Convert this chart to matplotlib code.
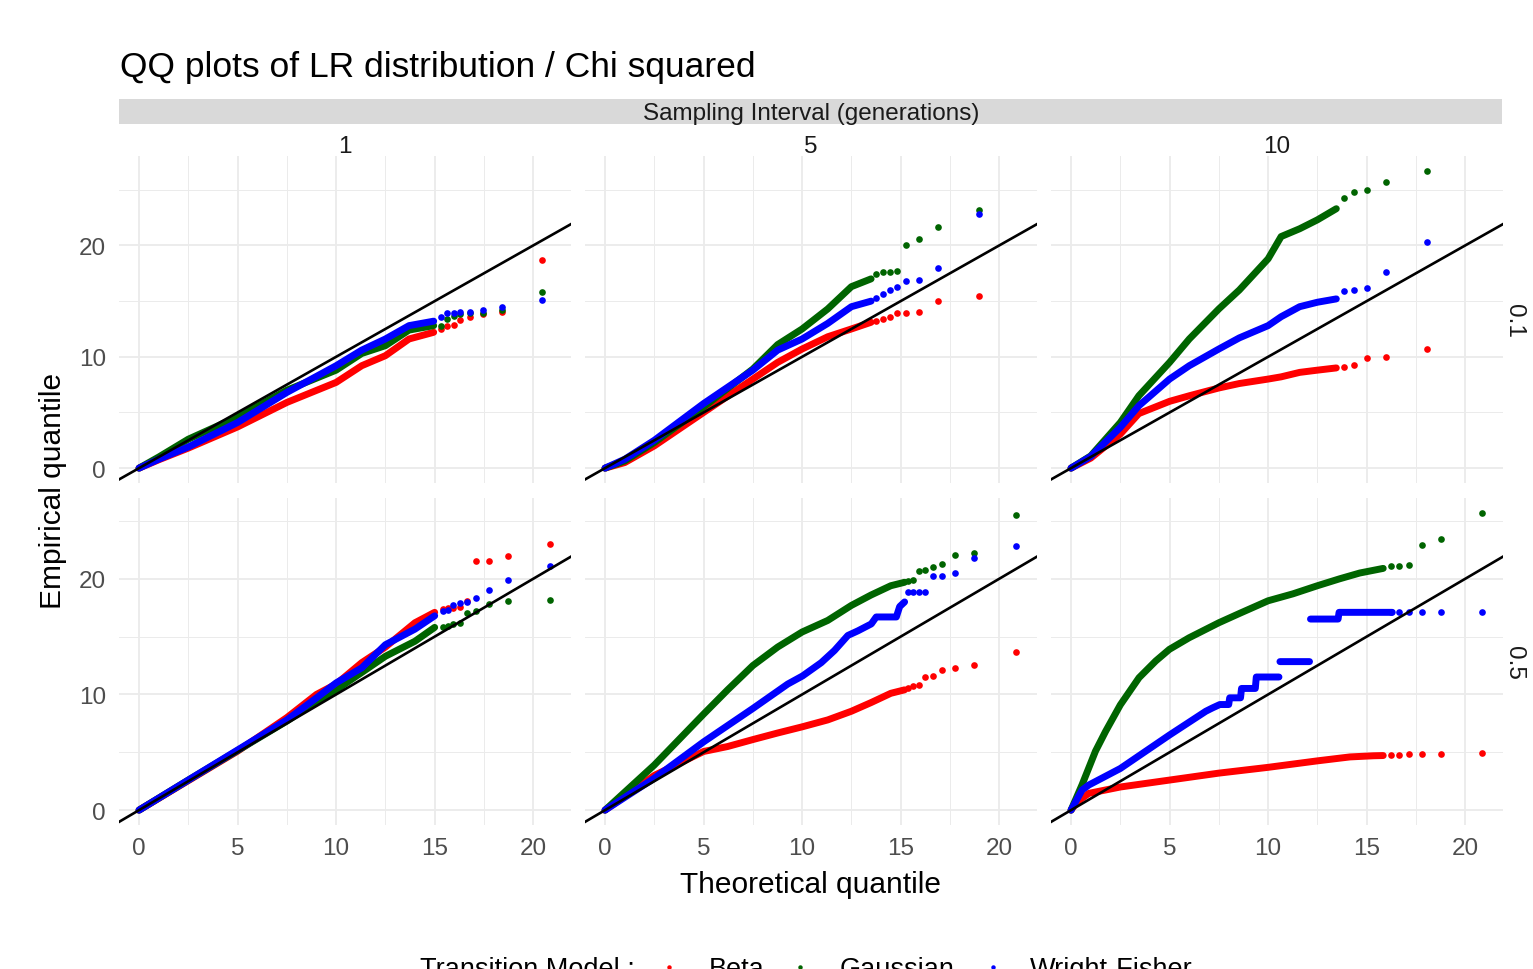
import numpy as np
import matplotlib.pyplot as plt
from matplotlib.lines import Line2D
from matplotlib.patches import Rectangle

plt.rcParams['font.family'] = ['Liberation Sans', 'DejaVu Sans']

W, H = 1533, 970
nan = float('nan')

models = ['Beta', 'Gaussian', 'Wright-Fisher']
model_colors = ['#FF0000', '#006400', '#0000FF']
intervals = ['1', '5', '10']
rates = ['0.1', '0.5']

# ---- rate 0.1, interval 1 ----
qx_01_1 = [0, 1, 2.5, 5, 7.5, 10, 11.3, 12.5, 13.7, 14.95]
beta_01_1 = [0, 0.75, 1.8, 3.7, 5.9, 7.7, 9.2, 10.1, 11.6, 12.2]
gauss_01_1 = [0, 1.0, 2.6, 4.6, 7.0, 8.8, 10.3, 11.0, 12.4, 12.8]
wf_01_1 = [0, 0.8, 1.9, 4.1, 6.8, 9.2, 10.6, 11.6, 12.8, 13.2]
tx_01_1 = [15.34, 15.63, 15.96, 16.30, 16.77, 17.45, 18.41, 20.47]
tbeta_01_1 = [12.5, 12.8, 12.9, 13.3, 13.6, 13.8, 14.0, 18.7]
tgauss_01_1 = [12.8, 13.4, 13.7, 13.8, 13.9, 13.9, 14.2, 15.8]
twf_01_1 = [13.6, 13.9, 13.9, 14.0, 14.0, 14.2, 14.5, 15.1]

# ---- rate 0.1, interval 5 ----
qx_01_5 = [0, 1, 2.5, 5, 7.5, 8.76, 10, 11.3, 12.5, 13.5]
beta_01_5 = [0, 0.5, 2.0, 5.0, 8.0, 9.5, 10.7, 11.8, 12.5, 13.1]
gauss_01_5 = [0, 0.65, 2.3, 5.5, 8.9, 11.1, 12.5, 14.3, 16.3, 17.0]
wf_01_5 = [0, 0.8, 2.5, 5.8, 8.8, 10.6, 11.6, 13.0, 14.5, 15.0]
tx_01_5 = [13.76, 14.10, 14.44, 14.81, 15.29, 15.92, 16.90, 18.97]
tbeta_01_5 = [13.2, 13.4, 13.6, 13.9, 13.9, 14.0, 15.0, 15.5]
tgauss_01_5 = [17.4, 17.6, 17.6, 17.75, 20.0, 20.6, 21.7, 23.2]
twf_01_5 = [15.3, 15.6, 16.0, 16.3, 16.8, 16.9, 18.0, 22.8]

# ---- rate 0.1, interval 10 ----
qx_01_10 = [0, 1, 2.5, 3.44, 5, 6, 7.5, 8.54, 10, 10.66, 11.6, 12.5, 13.46]
beta_01_10 = [0, 0.9, 3.06, 4.9, 6.0, 6.5, 7.2, 7.6, 8.0, 8.2, 8.6, 8.8, 9.0]
gauss_01_10 = [0, 1.1, 4.1, 6.5, 9.5, 11.6, 14.3, 16.0, 18.8, 20.8, 21.5, 22.3, 23.3]
wf_01_10 = [0, 1.05, 3.66, 5.6, 8.0, 9.2, 10.7, 11.7, 12.8, 13.6, 14.5, 14.9, 15.2]
tx_01_10 = [13.84, 14.35, 15.0, 15.96, 18.05]
tbeta_01_10 = [9.07, 9.3, 9.9, 10.0, 10.7]
tgauss_01_10 = [24.3, 24.8, 25.0, 25.7, 26.7]
twf_01_10 = [15.9, 16.0, 16.2, 17.6, 20.3]

# ---- rate 0.5, interval 1 ----
qx_05_1 = [0, 2.5, 5, 7.5, 9, 10, 11.3, 12.5, 14, 15]
beta_05_1 = [0, 2.55, 5.1, 8.0, 10.0, 10.9, 12.75, 14.1, 16.2, 17.1]
gauss_05_1 = [0, 2.6, 5.15, 7.7, 9.4, 10.4, 11.9, 13.3, 14.6, 15.8]
wf_05_1 = [0, 2.6, 5.2, 7.8, 9.7, 11.0, 12.3, 14.3, 15.65, 16.8]
tx_05_1 = [15.42, 15.68, 15.93, 16.27, 16.64, 17.12, 17.75, 18.73, 20.85]
tbeta_05_1 = [17.4, 17.5, 17.5, 17.6, 18.1, 21.5, 21.5, 22.0, 23.0]
tgauss_05_1 = [15.8, 15.9, 16.1, 16.2, 17.0, 17.2, 17.8, 18.1, 18.2]
twf_05_1 = [17.2, 17.3, 17.7, 17.9, 18.0, 18.3, 19.0, 19.9, 21.1]

# ---- rate 0.5, interval 5 ----
qx_05_5 = [0, 2.5, 5, 6.22, 7.5, 8.76, 10, 11.3, 12.5, 13.5, 14.5, 15.2]
beta_05_5 = [0, 3.0, 5.07, 5.5, 6.1, 6.67, 7.2, 7.8, 8.55, 9.3, 10.1, 10.4]
gauss_05_5 = [0, 3.9, 8.3, 10.4, 12.5, 14.1, 15.4, 16.4, 17.7, 18.6, 19.4, 19.7]
qx_wf_05_5 = [0, 2.49, 5.0, 7.51, 9.27, 10.02, 10.97, 11.64, 12.32, 12.83, 13.17,
              13.51, 13.76, 14.78, 14.95, 15.2]
wf_05_5 = [0, 2.75, 5.9, 8.8, 10.9, 11.6, 12.75, 13.8, 15.1, 15.5, 15.8,
           16.1, 16.7, 16.7, 17.6, 18.0]
tx_05_5 = [15.37, 15.63, 15.92, 16.25, 16.64, 17.12, 17.75, 18.73, 20.83]
tbeta_05_5 = [10.6, 10.7, 10.8, 11.5, 11.6, 12.1, 12.3, 12.55, 13.7]
tgauss_05_5 = [19.85, 19.9, 20.7, 20.8, 21.0, 21.3, 22.1, 22.2, 25.5]
twf_05_5 = [18.9, 18.9, 18.9, 18.9, 20.2, 20.2, 20.5, 21.8, 22.8]

# ---- rate 0.5, interval 10 ----
qx_beta_05_10 = [0, 0.3, 0.9, 2.5, 5, 7.5, 10, 12.5, 14.15, 15.34, 15.84]
beta_05_10 = [0, 0.7, 1.45, 2.0, 2.6, 3.2, 3.7, 4.26, 4.6, 4.7, 4.72]
qx_gauss_05_10 = [0, 0.56, 1.24, 1.75, 2.5, 3.45, 4.30, 4.99, 5.99, 7.50, 8.54,
                  10.0, 11.26, 12.5, 13.63, 14.65, 15.84]
gauss_05_10 = [0, 2.2, 5.1, 6.8, 9.1, 11.45, 12.9, 13.9, 14.9, 16.2, 17.0,
               18.1, 18.7, 19.4, 20.0, 20.5, 20.9]
# nan marks a jump between steps of tied values
qx_wf_05_10 = [0, 0.56, 0.9, 2.5, 5.0, 6.84, 7.18, 7.55, 8.0, 8.05, 8.6, 8.65, 9.35,
               9.4, 10.55, nan, 10.6, 12.1, nan, 12.15, 13.55, 13.6, 16.3]
wf_05_10 = [0, 1.74, 2.17, 3.6, 6.5, 8.55, 8.84, 9.13, 9.13, 9.71, 9.71, 10.52, 10.52,
            11.51, 11.51, nan, 12.84, 12.84, nan, 16.52, 16.52, 17.10, 17.10]
tx_05_10 = [16.26, 16.66, 17.13, 17.79, 18.78, 20.85]
tbeta_05_10 = [4.75, 4.78, 4.84, 4.84, 4.84, 4.93]
tgauss_05_10 = [21.1, 21.1, 21.2, 22.95, 23.4, 25.7]
twf_05_10 = [17.1, 17.1, 17.1, 17.1, 17.1, 17.1]

# (row, col) -> dense (x, y) per model, tail x, tail y per model
panels = {
    (0, 0): ([(qx_01_1, beta_01_1), (qx_01_1, gauss_01_1), (qx_01_1, wf_01_1)],
             tx_01_1, [tbeta_01_1, tgauss_01_1, twf_01_1]),
    (0, 1): ([(qx_01_5, beta_01_5), (qx_01_5, gauss_01_5), (qx_01_5, wf_01_5)],
             tx_01_5, [tbeta_01_5, tgauss_01_5, twf_01_5]),
    (0, 2): ([(qx_01_10, beta_01_10), (qx_01_10, gauss_01_10), (qx_01_10, wf_01_10)],
             tx_01_10, [tbeta_01_10, tgauss_01_10, twf_01_10]),
    (1, 0): ([(qx_05_1, beta_05_1), (qx_05_1, gauss_05_1), (qx_05_1, wf_05_1)],
             tx_05_1, [tbeta_05_1, tgauss_05_1, twf_05_1]),
    (1, 1): ([(qx_05_5, beta_05_5), (qx_05_5, gauss_05_5), (qx_wf_05_5, wf_05_5)],
             tx_05_5, [tbeta_05_5, tgauss_05_5, twf_05_5]),
    (1, 2): ([(qx_beta_05_10, beta_05_10), (qx_gauss_05_10, gauss_05_10),
              (qx_wf_05_10, wf_05_10)],
             tx_05_10, [tbeta_05_10, tgauss_05_10, twf_05_10]),
}

# shared x range, y range per row (ggplot 5% expansion)
xmax = max(max(p[1]) for p in panels.values())
xlim = (-0.05 * xmax, 1.05 * xmax)
row_max = []
for r in range(2):
    vals = []
    for c in range(3):
        dense, tx, tys = panels[(r, c)]
        for _, y in dense:
            vals.append(np.nanmax(y))
        for ty in tys:
            vals.append(max(ty))
    row_max.append(max(vals))

fig = plt.figure(figsize=(W / 100, H / 100), dpi=100)


def px_axes(left, top, width, height):
    return fig.add_axes([left / W, 1 - (top + height) / H, width / W, height / H])


col_left = [118.5, 584.5, 1050.5]
row_top = [157, 499]
pw, ph = 452, 327
grid_col = '#EBEBEB'
small = 17.5

for (r, c), (dense, tx, tys) in panels.items():
    ax = px_axes(col_left[c], row_top[r], pw, ph)
    ax.set_xlim(xlim)
    ax.set_ylim(-0.05 * row_max[r], 1.05 * row_max[r])
    ax.set_xticks([0, 5, 10, 15, 20])
    ax.set_xticks([2.5, 7.5, 12.5, 17.5], minor=True)
    ax.set_yticks([0, 10, 20])
    ax.set_yticks([5, 15, 25], minor=True)
    ax.grid(which='major', color=grid_col, lw=1.3)
    ax.grid(which='minor', color=grid_col, lw=0.7)
    ax.set_axisbelow(True)
    for s in ax.spines.values():
        s.set_visible(False)
    ax.tick_params(which='both', length=0, labelsize=small, labelcolor='#4D4D4D')
    ax.tick_params(axis='x', pad=9)
    ax.tick_params(axis='y', pad=9)
    if r == 0:
        ax.tick_params(axis='x', labelbottom=False)
    if c > 0:
        ax.tick_params(axis='y', labelleft=False)

    for (x, y), ty, col in zip(dense, tys, model_colors):
        ax.plot(x, y, color=col, lw=5, solid_capstyle='round',
                solid_joinstyle='round', zorder=2)
        ax.plot(tx, ty, 'o', color=col, ms=4.8, mew=0, zorder=2)
    ax.axline((0, 0), slope=1, color='black', lw=1.9, zorder=3)

# title
fig.text(120 / W, 1 - 67 / H, 'QQ plots of LR distribution / Chi squared',
         fontsize=25.5, ha='left', va='center')

# outer strip for the column variable
fig.add_artist(Rectangle((119 / W, 1 - 125 / H), (1502 - 119) / W, 25 / H,
                         transform=fig.transFigure, facecolor='#D9D9D9',
                         edgecolor='none'))
fig.text(811 / W, 1 - 114 / H, 'Sampling Interval (generations)', fontsize=small,
         color='#1A1A1A', ha='center', va='center')
for c, lab in enumerate(intervals):
    fig.text((col_left[c] + pw / 2) / W, 1 - 147 / H, lab, fontsize=small,
             color='#1A1A1A', ha='center', va='center')
for r, lab in enumerate(rates):
    fig.text(1514 / W, 1 - (row_top[r] + ph / 2) / H, lab, fontsize=small,
             color='#1A1A1A', ha='center', va='center', rotation=-90)

# axis titles
fig.text(811 / W, 1 - 885 / H, 'Theoretical quantile', fontsize=21.5,
         ha='center', va='center')
fig.text(53 / W, 1 - 491 / H, 'Empirical quantile', fontsize=21.5,
         ha='center', va='center', rotation=90)

# legend (runs off the bottom edge, as in the original)
leg_y = 977
fig.text(420 / W, 1 - leg_y / H, 'Transition Model :', fontsize=19.5,
         ha='left', va='baseline')
for xm, xt, lab, col in zip([669, 800, 993], [709, 840, 1030], models, model_colors):
    fig.add_artist(Line2D([xm / W], [1 - 968 / H], marker='o', ms=3.2, mew=0,
                          color=col, transform=fig.transFigure))
    fig.text(xt / W, 1 - leg_y / H, lab, fontsize=19.5, ha='left', va='baseline')

fig.savefig('out.png', dpi=100)
